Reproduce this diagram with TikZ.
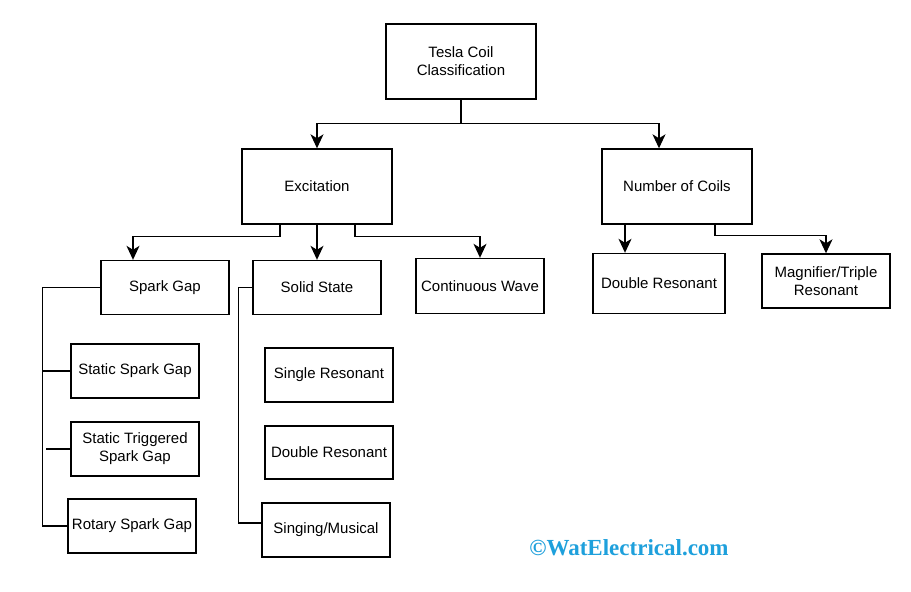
\documentclass[tikz,border=0pt]{standalone}
\usepackage{fontspec}
\setmainfont{Liberation Sans}
\newfontfamily\markfont{Liberation Serif}
\usetikzlibrary{arrows.meta}
\definecolor{markblue}{RGB}{30,160,220}

\begin{document}
\begin{tikzpicture}[x=1pt,y=-1pt]
			\tikzstyle{box} = [rectangle, draw=black, line width=1.4pt, fill=white, align=center, inner sep=0pt, font=\fontsize{15}{18}\selectfont, minimum width=128pt, minimum height=54pt];
			\tikzstyle{link} = [line width=1.4pt, -{Stealth[length=14pt,width=13pt,inset=4pt]}];
			\tikzstyle{tie} = [line width=1.4pt];
			\useasboundingbox [fill=white] (0,0) rectangle (911,592);
			\node (tesla) [box, minimum width=150pt, minimum height=75pt] at (461,61.5) {Tesla Coil\\Classification};
			\node (excitation) [box, minimum width=150pt, minimum height=75pt] at (317,186.5) {Excitation};
			\node (numcoils) [box, minimum width=150pt, minimum height=75pt] at (677,186.5) {Number of Coils};
			\node (sparkgap) [box] at (165,287.5) {Spark Gap};
			\node (solidstate) [box] at (317,287.5) {Solid State};
			\node (contwave) [box, minimum height=55pt] at (480,286) {Continuous Wave};
			\node (dblres) [box, minimum width=132pt, minimum height=60pt] at (659,283.5) {Double Resonant};
			\node (magnifier) [box] at (826,281) {Magnifier/Triple\\Resonant};
			\node (staticsg) [box] at (135,371) {Static Spark Gap};
			\node (trigsg) [box] at (135,449) {Static Triggered\\Spark Gap};
			\node (rotary) [box] at (132,526) {Rotary Spark Gap};
			\node (singleres) [box] at (329,375) {Single Resonant};
			\node (dblres1) [box, minimum height=53pt] at (329,452.5) {Double Resonant};
			\node (singing) [box] at (326,530) {Singing/Musical};
			\node (mark) [text=markblue, font=\markfont\bfseries\fontsize{23}{27}\selectfont] at (629,548) {©WatElectrical.com};
			\draw [link] (tesla.south) -- ++(0,24) -| (excitation.north);
			\draw [link] (tesla.south) -- ++(0,24) -| ([xshift=-18pt]numcoils.north);
			\draw [link] ([xshift=-37pt]excitation.south) -- ++(0,12) -| ([xshift=-32pt]sparkgap.north);
			\draw [link] (excitation.south) -- (solidstate.north);
			\draw [link] ([xshift=38pt]excitation.south) -- ++(0,12) -| (contwave.north);
			\draw [link] ([xshift=-52pt]numcoils.south) -- ([xshift=-34pt]dblres.north);
			\draw [link] ([xshift=38pt]numcoils.south) -- ++(0,11) -| (magnifier.north);
			\draw [tie] (sparkgap.west) -- ++(-58,0) |- (rotary.west);
			\draw [tie] (staticsg.west) -- ++(-28,0);
			\draw [tie] (trigsg.west) -- ++(-24,0);
			\draw [tie] (solidstate.west) -- ++(-14,0) |- ([yshift=7pt]singing.west);
		\end{tikzpicture}
\end{document}
